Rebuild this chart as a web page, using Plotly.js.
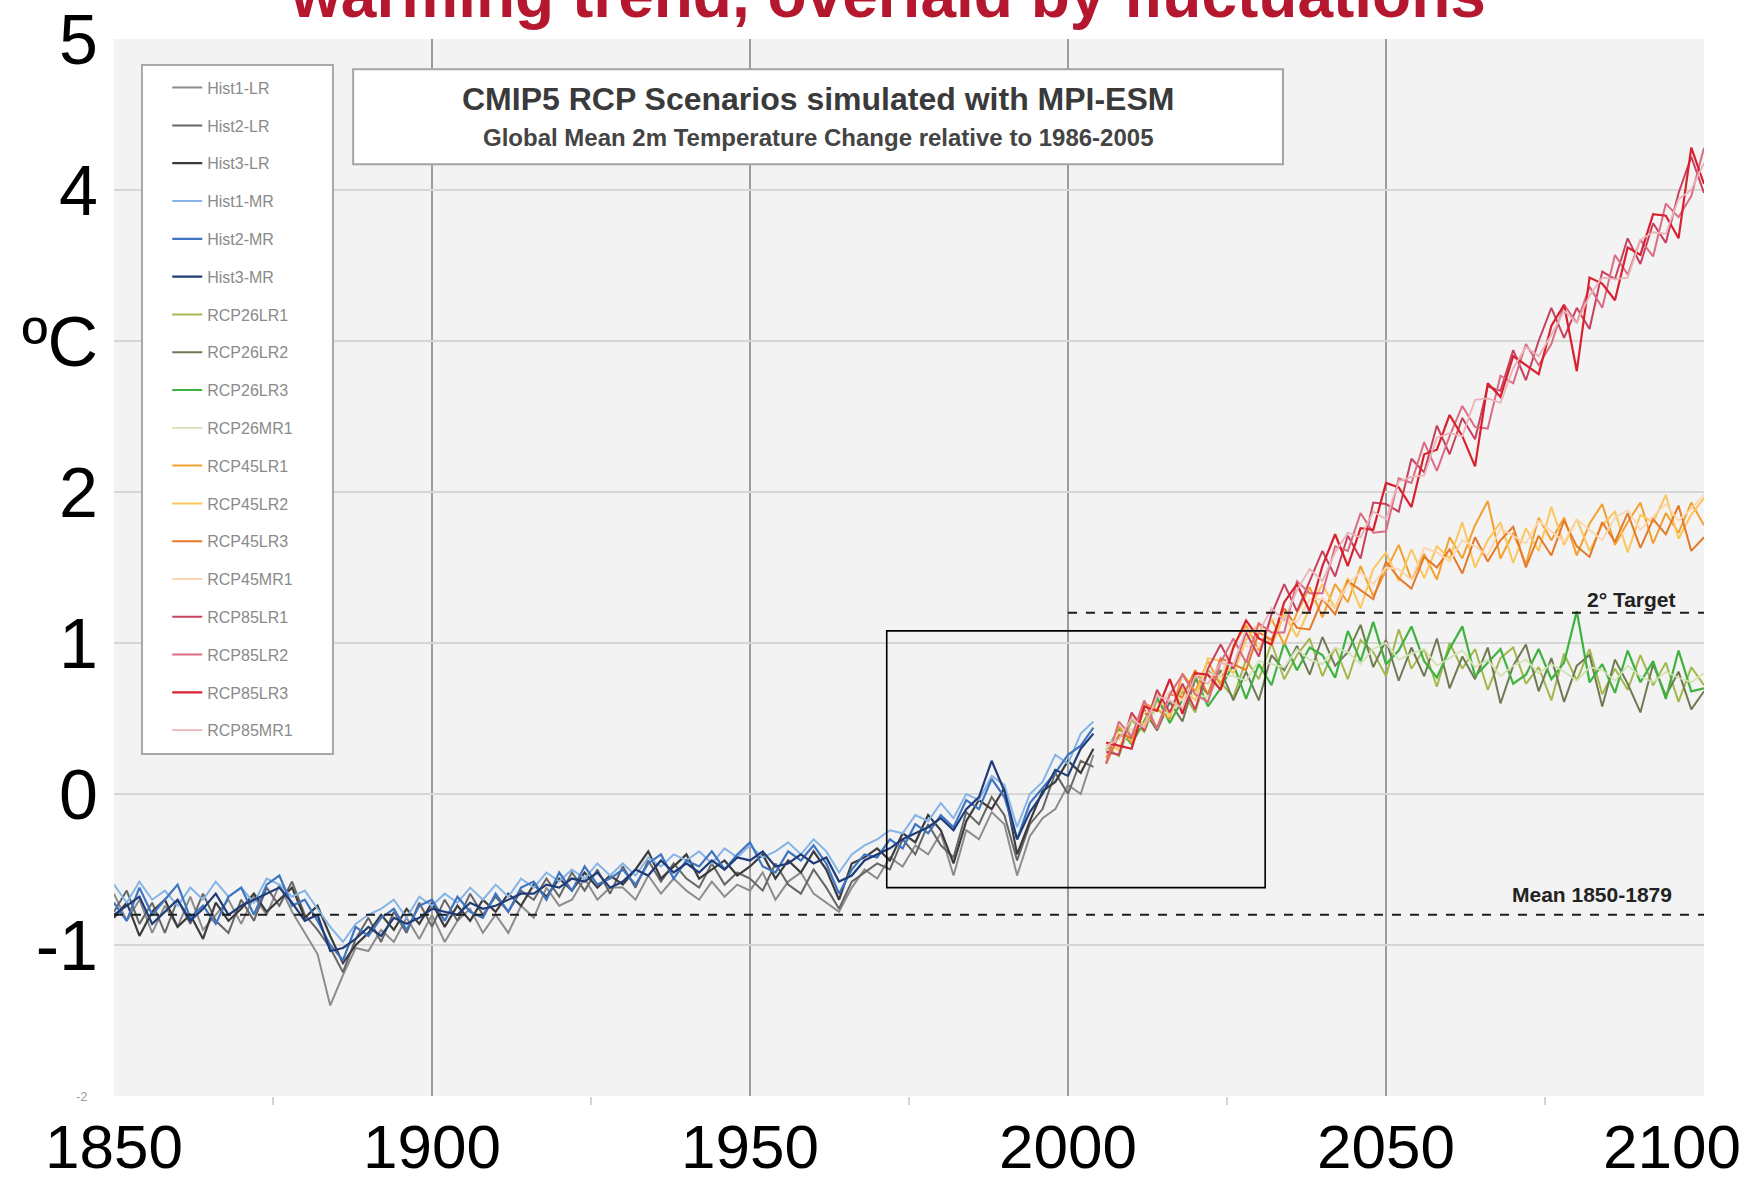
<!DOCTYPE html>
<html>
<head>
<meta charset="utf-8">
<script src="https://cdn.plot.ly/plotly-3.0.1.min.js"></script>
<style>
  html, body { margin: 0; padding: 0; background: #ffffff; }
  #chart { width: 1757px; height: 1181px; }
</style>
</head>
<body>
<div id="chart"></div>
<script>
// ---- years ----
const HIST_YEARS = [
  1850,1852,1854,1856,1858,1860,1862,1864,1866,1868,
  1870,1872,1874,1876,1878,1880,1882,1884,1886,1888,
  1890,1892,1894,1896,1898,1900,1902,1904,1906,1908,
  1910,1912,1914,1916,1918,1920,1922,1924,1926,1928,
  1930,1932,1934,1936,1938,1940,1942,1944,1946,1948,
  1950,1952,1954,1956,1958,1960,1962,1964,1966,1968,
  1970,1972,1974,1976,1978,1980,1982,1984,1986,1988,
  1990,1992,1994,1996,1998,2000,2002,2004
];
const SCEN_YEARS = [
  2006,2008,2010,2012,2014,2016,2018,2020,2022,2024,
  2026,2028,2030,2032,2034,2036,2038,2040,2042,2044,
  2046,2048,2050,2052,2054,2056,2058,2060,2062,2064,
  2066,2068,2070,2072,2074,2076,2078,2080,2082,2084,
  2086,2088,2090,2092,2094,2096,2098,2100
];

// ---- historical runs (°C, relative to 1986-2005) ----
const hist1LR = [
  -0.66,-0.84,-0.70,-0.92,-0.74,-0.88,-0.68,-0.90,-0.80,-0.70,
  -0.86,-0.68,-0.80,-0.60,-0.78,-0.92,-1.06,-1.40,-1.20,-1.02,
  -1.04,-0.90,-0.98,-0.82,-0.96,-0.80,-0.98,-0.84,-0.76,-0.92,
  -0.80,-0.92,-0.74,-0.82,-0.62,-0.74,-0.70,-0.56,-0.70,-0.62,
  -0.62,-0.70,-0.54,-0.66,-0.56,-0.64,-0.70,-0.58,-0.68,-0.60,
  -0.64,-0.52,-0.70,-0.58,-0.52,-0.66,-0.72,-0.78,-0.62,-0.50,
  -0.56,-0.42,-0.48,-0.34,-0.40,-0.26,-0.54,-0.24,-0.30,-0.12,
  -0.20,-0.54,-0.28,-0.16,-0.10,0.06,0.00,0.26
];
const hist2LR = [
  -0.78,-0.64,-0.86,-0.72,-0.92,-0.70,-0.86,-0.66,-0.84,-0.92,
  -0.70,-0.84,-0.62,-0.74,-0.58,-0.80,-0.90,-1.02,-1.18,-0.96,
  -0.82,-0.98,-0.78,-0.92,-0.72,-0.88,-0.70,-0.84,-0.66,-0.80,
  -0.68,-0.78,-0.64,-0.70,-0.56,-0.68,-0.52,-0.64,-0.50,-0.66,
  -0.48,-0.62,-0.44,-0.58,-0.46,-0.56,-0.62,-0.46,-0.60,-0.52,
  -0.56,-0.64,-0.46,-0.60,-0.66,-0.50,-0.62,-0.76,-0.58,-0.52,
  -0.46,-0.50,-0.30,-0.40,-0.20,-0.34,-0.42,-0.12,-0.20,-0.02,
  -0.14,-0.44,-0.20,-0.10,0.14,0.00,0.22,0.18
];
const hist3LR = [
  -0.82,-0.72,-0.94,-0.78,-0.70,-0.88,-0.80,-0.96,-0.72,-0.84,
  -0.76,-0.66,-0.78,-0.70,-0.62,-0.82,-0.74,-0.94,-1.12,-1.00,
  -0.92,-0.80,-0.90,-0.76,-0.86,-0.72,-0.88,-0.74,-0.84,-0.70,
  -0.78,-0.66,-0.74,-0.60,-0.68,-0.56,-0.64,-0.52,-0.62,-0.54,
  -0.60,-0.50,-0.38,-0.56,-0.48,-0.40,-0.56,-0.50,-0.44,-0.54,
  -0.48,-0.40,-0.56,-0.44,-0.52,-0.38,-0.50,-0.70,-0.46,-0.42,
  -0.36,-0.44,-0.26,-0.32,-0.14,-0.24,-0.46,-0.18,-0.04,-0.10,
  0.04,-0.40,-0.18,0.02,0.08,0.22,0.14,0.30
];
const hist1MR = [
  -0.60,-0.72,-0.58,-0.70,-0.64,-0.74,-0.62,-0.70,-0.58,-0.68,
  -0.62,-0.72,-0.56,-0.60,-0.68,-0.64,-0.76,-0.88,-0.98,-0.86,
  -0.80,-0.76,-0.70,-0.82,-0.68,-0.74,-0.66,-0.72,-0.62,-0.70,
  -0.60,-0.68,-0.56,-0.62,-0.52,-0.58,-0.50,-0.56,-0.46,-0.54,
  -0.46,-0.54,-0.42,-0.48,-0.40,-0.44,-0.38,-0.46,-0.36,-0.42,
  -0.34,-0.42,-0.38,-0.32,-0.40,-0.30,-0.38,-0.52,-0.40,-0.34,
  -0.30,-0.24,-0.26,-0.14,-0.18,-0.06,-0.16,0.00,-0.04,0.12,
  0.06,-0.22,0.00,0.08,0.26,0.20,0.40,0.48
];
const hist2MR = [
  -0.72,-0.84,-0.62,-0.80,-0.70,-0.60,-0.82,-0.74,-0.86,-0.68,
  -0.62,-0.80,-0.60,-0.54,-0.74,-0.70,-0.84,-1.00,-1.10,-0.88,
  -0.94,-0.82,-0.76,-0.90,-0.74,-0.70,-0.84,-0.68,-0.78,-0.82,
  -0.66,-0.78,-0.62,-0.58,-0.70,-0.52,-0.64,-0.48,-0.60,-0.56,
  -0.50,-0.60,-0.46,-0.40,-0.56,-0.44,-0.48,-0.38,-0.50,-0.40,
  -0.32,-0.48,-0.52,-0.38,-0.44,-0.34,-0.46,-0.66,-0.50,-0.40,
  -0.42,-0.30,-0.36,-0.20,-0.26,-0.14,-0.22,-0.04,-0.10,0.10,
  -0.02,-0.30,-0.06,0.04,0.14,0.26,0.32,0.44
];
const hist3MR = [
  -0.80,-0.74,-0.68,-0.86,-0.78,-0.70,-0.84,-0.76,-0.66,-0.80,
  -0.74,-0.70,-0.66,-0.62,-0.72,-0.84,-0.80,-1.04,-1.02,-0.96,
  -0.88,-0.94,-0.82,-0.86,-0.82,-0.76,-0.78,-0.80,-0.72,-0.76,
  -0.74,-0.70,-0.66,-0.66,-0.60,-0.62,-0.56,-0.58,-0.52,-0.62,
  -0.58,-0.50,-0.54,-0.44,-0.52,-0.46,-0.52,-0.44,-0.50,-0.42,
  -0.44,-0.38,-0.48,-0.46,-0.40,-0.46,-0.42,-0.58,-0.54,-0.44,
  -0.40,-0.36,-0.30,-0.26,-0.22,-0.16,-0.24,-0.10,-0.02,0.22,
  0.02,-0.30,-0.12,0.00,0.16,0.12,0.30,0.40
];

// ---- RCP2.6 ----
const rcp26LR1 = [
  0.31,0.25,0.49,0.41,0.62,0.53,0.68,0.54,0.82,0.74,
  0.64,0.89,0.76,1.00,0.76,0.92,1.03,0.78,0.97,0.76,
  1.02,0.94,0.78,1.09,0.83,0.96,0.71,1.00,0.83,0.96,
  0.69,0.90,0.97,0.73,0.84,0.62,0.93,0.75,0.96,0.66,
  0.83,0.69,0.92,0.72,0.87,0.61,0.84,0.72
];
const rcp26LR2 = [
  0.21,0.39,0.37,0.55,0.42,0.61,0.48,0.76,0.66,0.82,
  0.62,0.81,0.62,0.92,0.82,0.98,0.79,1.04,0.85,0.94,
  1.12,0.84,1.02,0.75,0.97,0.78,1.03,0.70,0.91,0.76,
  0.97,0.60,0.85,0.99,0.68,0.90,0.61,0.85,0.92,0.58,
  0.89,0.73,0.54,0.86,0.65,0.81,0.56,0.68
];
const rcp26LR3 = [
  0.29,0.43,0.33,0.49,0.64,0.47,0.62,0.78,0.58,0.70,
  0.86,0.63,0.86,0.72,1.00,0.82,0.97,0.92,0.77,1.08,
  0.88,1.14,0.86,0.95,1.11,0.88,0.77,0.96,1.11,0.78,
  0.87,0.96,0.73,0.79,0.96,0.76,0.87,1.21,0.74,0.86,
  0.67,0.95,0.74,0.88,0.63,0.95,0.68,0.70
];
const rcp26MR1 = [
  0.29,0.31,0.43,0.45,0.56,0.53,0.64,0.66,0.64,0.78,
  0.78,0.75,0.88,0.86,0.84,0.96,0.89,0.86,0.97,0.94,
  0.86,0.96,1.00,0.89,0.93,0.96,0.85,0.90,0.95,0.84,
  0.89,0.78,0.85,0.89,0.80,0.86,0.81,0.75,0.84,0.82,
  0.75,0.85,0.78,0.74,0.81,0.77,0.74,0.80
];

// ---- RCP4.5 ----
const rcp45LR1 = [
  0.24,0.45,0.34,0.60,0.56,0.50,0.80,0.68,0.88,0.72,
  0.98,1.12,0.95,1.16,0.99,1.20,1.37,1.17,1.39,1.27,
  1.51,1.31,1.48,1.65,1.42,1.59,1.42,1.70,1.56,1.78,
  1.94,1.56,1.73,1.52,1.83,1.68,1.83,1.58,1.79,1.92,
  1.65,1.80,1.93,1.66,1.86,1.73,1.93,1.78
];
const rcp45LR2 = [
  0.34,0.29,0.52,0.46,0.68,0.52,0.70,0.62,0.90,0.88,
  0.80,1.02,1.13,0.98,1.19,1.04,1.23,1.39,1.23,1.43,
  1.23,1.49,1.60,1.41,1.62,1.43,1.64,1.56,1.80,1.50,
  1.68,1.80,1.53,1.76,1.61,1.90,1.65,1.82,1.61,1.78,
  1.87,1.60,1.85,1.80,1.98,1.69,1.85,1.96
];
const rcp45LR3 = [
  0.20,0.39,0.38,0.56,0.44,0.66,0.64,0.82,0.66,0.90,
  0.86,0.82,1.07,1.02,1.23,1.10,1.09,1.29,1.19,1.41,
  1.35,1.29,1.54,1.43,1.36,1.57,1.50,1.62,1.46,1.70,
  1.54,1.68,1.77,1.50,1.71,1.58,1.81,1.64,1.57,1.80,
  1.67,1.86,1.63,1.82,1.72,1.91,1.61,1.70
];
const rcp45MR1 = [
  0.30,0.41,0.40,0.54,0.56,0.68,0.62,0.78,0.80,0.78,
  0.98,0.98,0.97,1.16,1.15,1.14,1.29,1.29,1.23,1.39,
  1.47,1.39,1.50,1.49,1.42,1.63,1.60,1.54,1.68,1.64,
  1.58,1.76,1.71,1.66,1.81,1.74,1.67,1.82,1.75,1.68,
  1.83,1.88,1.75,1.84,1.92,1.81,1.89,1.98
];

// ---- RCP8.5 ----
const rcp85LR1 = [
  0.28,0.26,0.54,0.42,0.69,0.54,0.73,0.56,0.83,0.99,
  0.83,1.07,0.91,1.19,1.39,1.21,1.41,1.61,1.44,1.71,
  1.56,1.93,1.92,1.87,2.22,2.13,2.44,2.25,2.49,2.35,
  2.70,2.67,2.94,2.74,3.00,3.22,3.02,3.22,3.08,3.46,
  3.41,3.68,3.51,3.78,3.65,3.98,4.22,3.98
];
const rcp85LR2 = [
  0.20,0.48,0.38,0.62,0.43,0.66,0.79,0.66,0.61,0.87,
  1.03,0.87,1.13,1.07,1.07,1.41,1.33,1.33,1.64,1.61,
  1.86,1.73,1.74,2.09,2.06,2.33,2.14,2.37,2.57,2.43,
  2.42,2.77,2.72,2.98,2.84,2.98,3.24,3.12,3.36,3.22,
  3.57,3.44,3.67,3.56,3.91,3.82,3.96,4.28
];
const rcp85LR3 = [
  0.34,0.32,0.30,0.58,0.55,0.76,0.53,0.80,0.79,0.69,
  0.97,1.15,1.03,0.99,1.27,1.39,1.21,1.51,1.72,1.51,
  1.76,1.75,2.06,2.03,1.90,2.25,2.28,2.51,2.37,2.17,
  2.72,2.63,2.90,2.84,2.78,3.10,3.24,2.80,3.42,3.38,
  3.27,3.62,3.57,3.84,3.83,3.68,4.28,4.04
];
const rcp85MR1 = [
  0.32,0.36,0.50,0.44,0.65,0.62,0.57,0.78,0.73,0.87,
  0.85,1.09,1.07,1.23,1.15,1.35,1.49,1.41,1.60,1.73,
  1.70,1.87,1.82,2.07,2.10,2.11,2.36,2.39,2.37,2.61,
  2.62,2.59,2.82,2.96,2.90,3.04,3.20,3.12,3.30,3.42,
  3.41,3.42,3.67,3.72,3.71,3.94,4.00,4.18
];

// ---- reference levels ----
const MEAN_1850_1879 = -0.8;
const TARGET_2DEG = 1.2;
const TARGET_START = 2000;
const FOCUS_YEARS = [1971.5, 2031];
const FOCUS_TEMPS = [-0.62, 1.08];

const X_TICKS = [1850, 1900, 1950, 2000, 2050, 2100];
const X_LABELS = ['1850', '1900', '1950', '2000', '2050', '2100'];
const Y_TICKS = [-2, -1, 0, 1, 2, 3, 4, 5];
const Y_LABELS = ['', '-1', '0', '1', '2', 'ºC', '4', '5'];
const Y_BOTTOM_LABEL = '-2';

// ---- run list: name, years, values ----
const RUNS = [
  ['Hist1-LR', HIST_YEARS, hist1LR],
  ['Hist2-LR', HIST_YEARS, hist2LR],
  ['Hist3-LR', HIST_YEARS, hist3LR],
  ['Hist1-MR', HIST_YEARS, hist1MR],
  ['Hist2-MR', HIST_YEARS, hist2MR],
  ['Hist3-MR', HIST_YEARS, hist3MR],
  ['RCP26LR1', SCEN_YEARS, rcp26LR1],
  ['RCP26LR2', SCEN_YEARS, rcp26LR2],
  ['RCP26LR3', SCEN_YEARS, rcp26LR3],
  ['RCP26MR1', SCEN_YEARS, rcp26MR1],
  ['RCP45LR1', SCEN_YEARS, rcp45LR1],
  ['RCP45LR2', SCEN_YEARS, rcp45LR2],
  ['RCP45LR3', SCEN_YEARS, rcp45LR3],
  ['RCP45MR1', SCEN_YEARS, rcp45MR1],
  ['RCP85LR1', SCEN_YEARS, rcp85LR1],
  ['RCP85LR2', SCEN_YEARS, rcp85LR2],
  ['RCP85LR3', SCEN_YEARS, rcp85LR3],
  ['RCP85MR1', SCEN_YEARS, rcp85MR1]
];

// line styles per run, same order
const RUN_STYLES = [
  { color: '#8c8c8c', width: 2.0 },
  { color: '#666666', width: 2.0 },
  { color: '#3c3c3c', width: 2.2 },
  { color: '#86b4e6', width: 2.0 },
  { color: '#3f74c0', width: 2.2 },
  { color: '#1f3c78', width: 2.2 },
  { color: '#a3b84c', width: 2.0 },
  { color: '#6f7a52', width: 2.0 },
  { color: '#3fb23f', width: 2.2 },
  { color: '#d3e2b4', width: 1.8 },
  { color: '#f2a02e', width: 2.0 },
  { color: '#fbc65c', width: 2.0 },
  { color: '#e4792a', width: 2.0 },
  { color: '#fbd6b0', width: 1.8 },
  { color: '#c8405e', width: 2.0 },
  { color: '#dc6c84', width: 2.0 },
  { color: '#d8202e', width: 2.2 },
  { color: '#e8b4b8', width: 1.8 }
];

const traces = RUNS.map(([name, xs, ys], i) => ({
  type: 'scatter',
  mode: 'lines',
  name: name,
  x: xs,
  y: ys,
  legendgroup: 'run' + i,
  line: { color: RUN_STYLES[i].color, width: RUN_STYLES[i].width },
  hoverinfo: 'skip'
}));

const FONT = 'Liberation Sans, Arial, Helvetica, sans-serif';

const shapes = [
  // legend frame
  { type: 'rect', xref: 'paper', yref: 'paper', x0: 0.0176, x1: 0.1377, y0: 0.3236, y1: 0.9754,
    fillcolor: '#ffffff', line: { color: '#a8a8a8', width: 2 }, layer: 'above' },
  // chart heading frame
  { type: 'rect', xref: 'x', yref: 'y', x0: 1887.6, x1: 2033.8, y0: 4.17, y1: 4.80,
    fillcolor: '#ffffff', line: { color: '#a4a4a4', width: 2 }, layer: 'above' },
  // pre-industrial mean
  { type: 'line', xref: 'x', yref: 'y', x0: 1850, x1: 2100, y0: MEAN_1850_1879, y1: MEAN_1850_1879,
    line: { color: '#1e1e1e', width: 2, dash: 'dash' }, layer: 'above' },
  // 2 degree target
  { type: 'line', xref: 'x', yref: 'y', x0: TARGET_START, x1: 2100, y0: TARGET_2DEG, y1: TARGET_2DEG,
    line: { color: '#1e1e1e', width: 2, dash: 'dash' }, layer: 'above' },
  // focus window
  { type: 'rect', xref: 'x', yref: 'y', x0: FOCUS_YEARS[0], x1: FOCUS_YEARS[1], y0: FOCUS_TEMPS[0], y1: FOCUS_TEMPS[1],
    fillcolor: 'rgba(0,0,0,0)', line: { color: '#000000', width: 1.6 }, layer: 'above' }
];

const annotations = [
  { text: '<b>warming trend, overlaid by fluctuations</b>', xref: 'paper', yref: 'paper',
    x: 0.4868, y: 1.006, xanchor: 'center', yanchor: 'bottom', showarrow: false,
    font: { family: FONT, size: 64, color: '#b5182e' } },
  { text: '<b>CMIP5 RCP Scenarios simulated with MPI-ESM</b>', xref: 'x', yref: 'y',
    x: 1960.7, y: 4.605, xanchor: 'center', yanchor: 'middle', showarrow: false,
    font: { family: FONT, size: 32, color: '#3a3a3a' } },
  { text: '<b>Global Mean 2m Temperature Change relative to 1986-2005</b>', xref: 'x', yref: 'y',
    x: 1960.7, y: 4.346, xanchor: 'center', yanchor: 'middle', showarrow: false,
    font: { family: FONT, size: 24, color: '#444444' } },
  { text: '<b>2° Target</b>', xref: 'x', yref: 'y', x: 2100, y: TARGET_2DEG,
    xanchor: 'right', yanchor: 'bottom', xshift: -26, yshift: 0, showarrow: false,
    font: { family: FONT, size: 21, color: '#222222' } },
  { text: '<b>Mean 1850-1879</b>', xref: 'x', yref: 'y', x: 2100, y: MEAN_1850_1879,
    xanchor: 'right', yanchor: 'bottom', xshift: -30, yshift: 7, showarrow: false,
    font: { family: FONT, size: 21, color: '#222222' } },
  { text: Y_BOTTOM_LABEL, xref: 'paper', yref: 'y', x: -0.0151, y: -2,
    xanchor: 'right', yanchor: 'middle', showarrow: false,
    font: { family: FONT, size: 13, color: '#9a9a9a' } }
];

// year labels under the axis (the last one pulled in from the edge)
X_TICKS.forEach((yr, i) => {
  annotations.push({
    text: X_LABELS[i], xref: 'x', yref: 'paper', x: yr, y: -0.013,
    xanchor: 'center', yanchor: 'top', xshift: (yr === 2100 ? -32 : 0), showarrow: false,
    font: { family: FONT, size: 62, color: '#000000' }
  });
});

const layout = {
  width: 1757,
  height: 1181,
  margin: { l: 114, r: 53, t: 39, b: 85, pad: 0 },
  paper_bgcolor: '#ffffff',
  plot_bgcolor: '#f3f3f3',
  font: { family: FONT, color: '#000000' },
  showlegend: true,
  legend: {
    x: 0.0335, y: 0.9700, xanchor: 'left', yanchor: 'top',
    bgcolor: 'rgba(0,0,0,0)', borderwidth: 0,
    font: { family: FONT, size: 16, color: '#8a8a8a' },
    traceorder: 'grouped', tracegroupgap: 14
  },
  xaxis: {
    range: [1850, 2100],
    tickvals: X_TICKS,
    showticklabels: false,
    ticks: '',
    showgrid: true, gridcolor: '#9c9c9c', gridwidth: 1.5,
    zeroline: false, showline: false,
    minor: { tickvals: [1875, 1925, 1975, 2025, 2075], ticks: 'outside', ticklen: 8,
             tickcolor: '#d4d4d4', tickwidth: 2, showgrid: false },
    automargin: false, fixedrange: true
  },
  yaxis: {
    range: [-2, 5],
    tickvals: Y_TICKS,
    ticktext: Y_LABELS,
    tickfont: { family: FONT, size: 70, color: '#000000' },
    ticks: '',
    ticklabelstandoff: 15,
    showgrid: true, gridcolor: '#d6d6d6', gridwidth: 2.5,
    zeroline: false, showline: false,
    automargin: false, fixedrange: true
  },
  shapes: shapes,
  annotations: annotations
};

Plotly.newPlot('chart', traces, layout, { displayModeBar: false, staticPlot: true });
</script>
</body>
</html>
